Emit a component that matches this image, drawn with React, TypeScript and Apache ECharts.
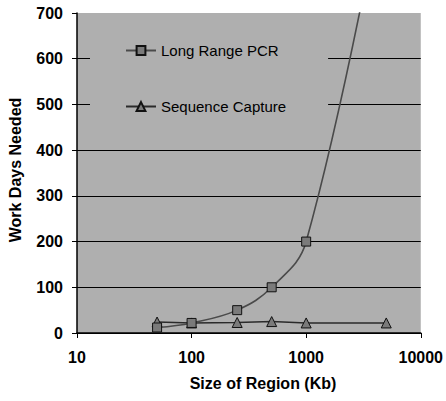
import React, { useEffect, useRef } from "react";
import * as echarts from "echarts";

const regionSizes = [50, 100, 250, 500, 1000, 5000];
const longRangePCR = [12, 22, 50, 100, 200, 1000];
const sequenceCapture = [24, 22, 23, 25, 22, 22];
const yTicks = [0, 100, 200, 300, 400, 500, 600, 700];

const FONT = "'Liberation Sans', Arial, sans-serif";
const PLOT_BG = "#afafaf";

export default function App() {
  const ref = useRef<HTMLDivElement>(null);
  useEffect(() => {
    const chart = echarts.init(ref.current!, undefined, { renderer: "svg" });
    const gridColors = yTicks.map((v, i) => (i === yTicks.length - 1 ? "rgba(0,0,0,0)" : "#000"));
    chart.setOption({
      animation: false,
      backgroundColor: "#fff",
      grid: {
        left: 77,
        right: 25,
        top: 13,
        bottom: 68,
        show: true,
        backgroundColor: PLOT_BG,
        borderWidth: 0,
      },
      xAxis: {
        type: "log",
        logBase: 10,
        min: 10,
        max: 10000,
        axisLine: { show: true, lineStyle: { color: "#000", width: 1.5 } },
        axisTick: { show: true, inside: false, length: 5, lineStyle: { color: "#000" } },
        minorTick: { show: false },
        splitLine: { show: false },
        axisLabel: {
          margin: 16,
          color: "#000",
          fontFamily: FONT,
          fontWeight: "bold",
          fontSize: 16,
          formatter: (v: number) => String(Math.round(v)),
        },
      },
      yAxis: {
        type: "value",
        min: 0,
        max: 700,
        interval: 100,
        axisLine: { show: true, lineStyle: { color: "#000", width: 1.5 } },
        axisTick: { show: true, inside: false, length: 5, lineStyle: { color: "#000" } },
        splitLine: { show: true, lineStyle: { color: gridColors, width: 1.2 } },
        axisLabel: {
          margin: 14,
          color: "#000",
          fontFamily: FONT,
          fontWeight: "bold",
          fontSize: 16,
        },
      },
      legend: {
        orient: "vertical",
        left: 90,
        top: 23,
        z: 1,
        padding: [20, 42, 20, 35],
        itemGap: 41,
        itemWidth: 30,
        itemHeight: 11,
        backgroundColor: PLOT_BG,
        textStyle: { fontFamily: FONT, fontSize: 15, color: "#000" },
        data: ["Long Range PCR", "Sequence Capture"],
      },
      series: [
        {
          name: "Long Range PCR",
          type: "line",
          smooth: 0.4,
          clip: true,
          data: regionSizes.map((x, i) => [x, longRangePCR[i]]),
          symbol: "rect",
          symbolSize: 9,
          itemStyle: { color: "#7a7a7a", borderColor: "#111", borderWidth: 1 },
          lineStyle: { color: "#4a4a4a", width: 1.6 },
          z: 3,
        },
        {
          name: "Sequence Capture",
          type: "line",
          smooth: false,
          clip: true,
          data: regionSizes.map((x, i) => [x, sequenceCapture[i]]),
          symbol: "triangle",
          symbolSize: 10,
          itemStyle: { color: "#7a7a7a", borderColor: "#111", borderWidth: 1 },
          lineStyle: { color: "#2a2a2a", width: 1.6 },
          z: 2,
        },
      ],
      graphic: [
        {
          type: "text",
          x: 263,
          y: 383,
          style: {
            text: "Size of Region (Kb)",
            fontFamily: FONT,
            fontWeight: "bold",
            fontSize: 16,
            fill: "#000",
            align: "center",
            verticalAlign: "middle",
          },
        },
        {
          type: "text",
          x: 15,
          y: 170,
          rotation: Math.PI / 2,
          style: {
            text: "Work Days Needed",
            fontFamily: FONT,
            fontWeight: "bold",
            fontSize: 16,
            fill: "#000",
            align: "center",
            verticalAlign: "middle",
          },
        },
      ],
    });
    return () => chart.dispose();
  }, []);
  return (
    <div
      ref={ref}
      style={{ position: "fixed", left: 0, top: 0, width: 446, height: 401 }}
    />
  );
}
